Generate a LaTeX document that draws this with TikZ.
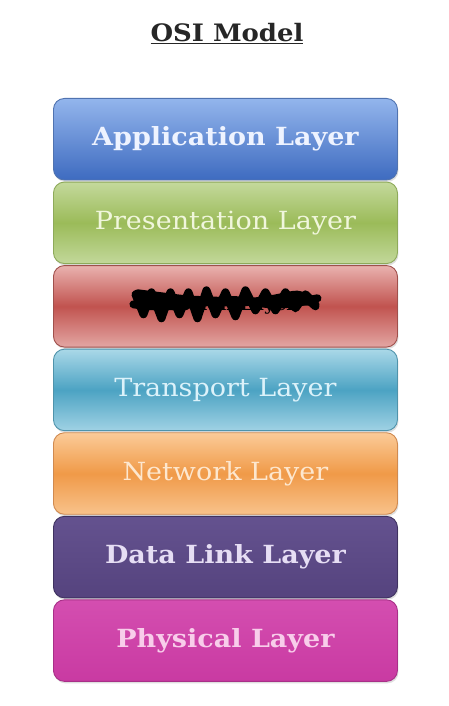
\documentclass[tikz,border=0pt]{standalone}
\usepackage{fontspec}
\setmainfont{DejaVu Serif}
\newfontfamily\layfont[FakeStretch=1.08]{DejaVu Serif}
\usetikzlibrary{shadows}
\definecolor{appT}{HTML}{93B5EC}\definecolor{appB}{HTML}{3E6BC0}\definecolor{appD}{HTML}{5073B0}\definecolor{appX}{HTML}{EEF3FF}
\definecolor{preT}{HTML}{C4D99C}\definecolor{preM}{HTML}{9BBB59}\definecolor{preB}{HTML}{C2D89A}\definecolor{preD}{HTML}{8EAA5A}\definecolor{preX}{HTML}{F0F6DC}
\definecolor{sesT}{HTML}{E9B2AF}\definecolor{sesM}{HTML}{C1534F}\definecolor{sesB}{HTML}{E3A6A3}\definecolor{sesD}{HTML}{A0504C}
\definecolor{traT}{HTML}{AAD8E8}\definecolor{traM}{HTML}{4CA3C3}\definecolor{traB}{HTML}{A0D2E4}\definecolor{traD}{HTML}{4F93AB}\definecolor{traX}{HTML}{DCF2FA}
\definecolor{netT}{HTML}{FBCB98}\definecolor{netM}{HTML}{F09A48}\definecolor{netB}{HTML}{F8C28B}\definecolor{netD}{HTML}{D08A50}\definecolor{netX}{HTML}{FDE7CF}
\definecolor{dlT}{HTML}{64528F}\definecolor{dlB}{HTML}{55437E}\definecolor{dlD}{HTML}{3F3260}\definecolor{dlX}{HTML}{E6DEF4}
\definecolor{phT}{HTML}{D44EB0}\definecolor{phB}{HTML}{C93AA2}\definecolor{phD}{HTML}{A83088}\definecolor{phX}{HTML}{F8CDEA}
\tikzset{
  layerbox/.style={rounded corners=11pt, minimum width=344pt, minimum height=81.5pt,
    anchor=north west, inner sep=0pt, line width=0.9pt, font=\layfont\fontsize{25}{28}\selectfont,
    drop shadow={opacity=0.25, shadow xshift=1pt, shadow yshift=-2pt}},
  scribble/.style={line width=8pt, black, line join=round, line cap=round}
}
\begin{document}
\begin{tikzpicture}[x=1pt,y=-1pt]
\useasboundingbox (0,0) rectangle (448,706);
\fill[white] (0,0) rectangle (448,706);
\node[font=\layfont\fontsize{24}{26}\selectfont\bfseries, text=black!85] (title) at (227,34) {\underline{OSI Model}};
\node[layerbox, draw=appD, top color=appT, bottom color=appB, text=appX] (app) at (53,98) {\bfseries Application Layer};
\node[layerbox, draw=preD, top color=preT, bottom color=preB, middle color=preM, text=preX] (pres) at (53,181.6) {Presentation Layer};
\node[layerbox, draw=sesD, top color=sesT, bottom color=sesB, middle color=sesM, text=black] (sess) at (53,265.1) {\raisebox{3pt}{\fontsize{17}{20}\selectfont\bfseries Session Layer}};
\node[layerbox, draw=traD, top color=traT, bottom color=traB, middle color=traM, text=traX] (trans) at (53,348.7) {Transport Layer};
\node[layerbox, draw=netD, top color=netT, bottom color=netB, middle color=netM, text=netX] (net) at (53,432.3) {Network Layer};
\node[layerbox, draw=dlD, top color=dlT, bottom color=dlB, text=dlX] (dl) at (53,515.9) {\bfseries Data Link Layer};
\node[layerbox, draw=phD, top color=phT, bottom color=phB, text=phX] (phys) at (53,599.4) {\bfseries Physical Layer};
\coordinate (sc) at ([yshift=4pt]sess.center);
\draw[scribble] ([xshift=-90pt,yshift=8pt]sc) -- ([xshift=-82pt,yshift=-12pt]sc) -- ([xshift=-74pt,yshift=10pt]sc) -- ([xshift=-64pt,yshift=-16pt]sc)
  -- ([xshift=-55pt,yshift=10pt]sc) -- ([xshift=-46pt,yshift=-12pt]sc) -- ([xshift=-37pt,yshift=10pt]sc) -- ([xshift=-28pt,yshift=-16pt]sc)
  -- ([xshift=-19pt,yshift=12pt]sc) -- ([xshift=-10pt,yshift=-12pt]sc) -- ([xshift=0pt,yshift=10pt]sc) -- ([xshift=10pt,yshift=-14pt]sc)
  -- ([xshift=20pt,yshift=12pt]sc) -- ([xshift=30pt,yshift=-8pt]sc) -- ([xshift=40pt,yshift=10pt]sc) -- ([xshift=50pt,yshift=-8pt]sc)
  -- ([xshift=60pt,yshift=10pt]sc) -- ([xshift=70pt,yshift=-6pt]sc) -- ([xshift=80pt,yshift=8pt]sc) -- ([xshift=90pt,yshift=-2pt]sc);
\draw[scribble] ([xshift=-92pt,yshift=-2pt]sc) .. controls ([xshift=-40pt,yshift=-10pt]sc) and ([xshift=-10pt,yshift=8pt]sc) .. ([xshift=30pt,yshift=0pt]sc)
  .. controls ([xshift=60pt,yshift=-6pt]sc) and ([xshift=80pt,yshift=2pt]sc) .. ([xshift=92pt,yshift=4pt]sc);
\draw[scribble] ([xshift=-88pt,yshift=9pt]sc) .. controls ([xshift=-30pt,yshift=2pt]sc) and ([xshift=10pt,yshift=-6pt]sc) .. ([xshift=60pt,yshift=6pt]sc)
  .. controls ([xshift=75pt,yshift=9pt]sc) .. ([xshift=90pt,yshift=-4pt]sc);
\draw[scribble] ([xshift=-86pt,yshift=2pt]sc) .. controls ([xshift=-40pt,yshift=6pt]sc) and ([xshift=20pt,yshift=-3pt]sc) .. ([xshift=86pt,yshift=1pt]sc);
\end{tikzpicture}
\end{document}
